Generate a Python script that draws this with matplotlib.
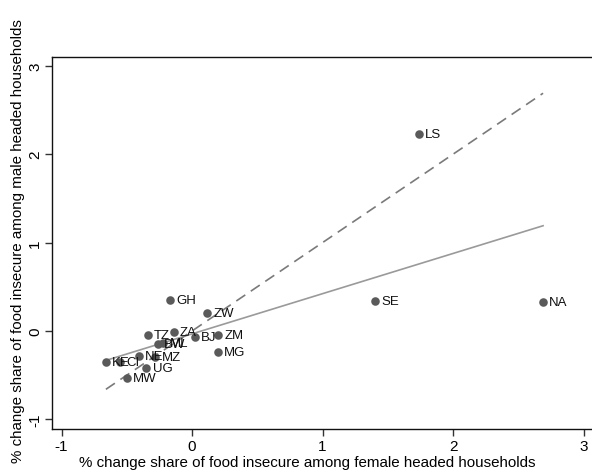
import numpy as np
import matplotlib
matplotlib.use("Agg")
import matplotlib.pyplot as plt

plt.rcParams['font.family'] = ['Liberation Sans', 'DejaVu Sans']

countries = ["LS", "SE", "NA", "GH", "ZW", "TZ", "ZA", "BJ", "ZM", "MG",
             "BW", "ML", "NE", "MZ", "KE", "CI", "UG", "MW"]
female_change = [1.74, 1.40, 2.69, -0.17, 0.115, -0.34, -0.14, 0.02, 0.20, 0.20,
                 -0.26, -0.22, -0.41, -0.28, -0.66, -0.55, -0.35, -0.50]
male_change = [2.23, 0.34, 0.33, 0.35, 0.20, -0.04, -0.01, -0.07, -0.04, -0.24,
               -0.15, -0.14, -0.28, -0.29, -0.35, -0.35, -0.42, -0.53]
x_ticks = [-1, 0, 1, 2, 3]
y_ticks = [-1, 0, 1, 2, 3]

x = np.array(female_change)
y = np.array(male_change)

fig = plt.figure(figsize=(5.92, 4.77), dpi=100)
ax = fig.add_axes([52/592, 1-430/477, 1-52/592, (430-58)/477])

xs = np.array([x.min(), x.max()])
slope, intercept = np.polyfit(x, y, 1)
ax.plot(xs, slope*xs + intercept, color='#9a9a9a', lw=1.2, zorder=1)
ax.plot(xs, xs, color='#7a7a7a', lw=1.2, ls=(0, (6.5, 4)), zorder=1)

ax.scatter(x, y, s=38, color='#5a5a5a', zorder=3, linewidths=0)
for cx, cy, lab in zip(x, y, countries):
    ax.annotate(lab, (cx, cy), xytext=(4.5, 0), textcoords='offset points',
                va='center', ha='left', fontsize=9.5, color='#111111', zorder=4)

ax.set_xlim(-1.073, 3.065)
ax.set_ylim(-1.109, 3.10)
ax.set_xticks(x_ticks)
ax.set_yticks(y_ticks)
ax.set_xticklabels([str(t) for t in x_ticks], fontsize=11)
ax.set_yticklabels([str(t) for t in y_ticks], fontsize=11, rotation=90, va='center')
ax.tick_params(direction='out', length=5, width=1, color='#333333', pad=2)
for s in ['left', 'bottom', 'top']:
    ax.spines[s].set_linewidth(1.0)
    ax.spines[s].set_color('#111111')
ax.spines['right'].set_visible(False)

ax.set_xlabel('% change share of food insecure among female headed households', fontsize=10.9)
ax.set_ylabel('% change share of food insecure among male headed households', fontsize=10.9)
ax.xaxis.set_label_coords((307-52)/540, 1 - (463-58)/372, transform=ax.transAxes)
ax.xaxis.label.set_va('center')
ax.yaxis.set_label_coords((18-52)/540, (430-241)/372, transform=ax.transAxes)
ax.yaxis.label.set_va('center')

fig.savefig('out.png', dpi=100)
